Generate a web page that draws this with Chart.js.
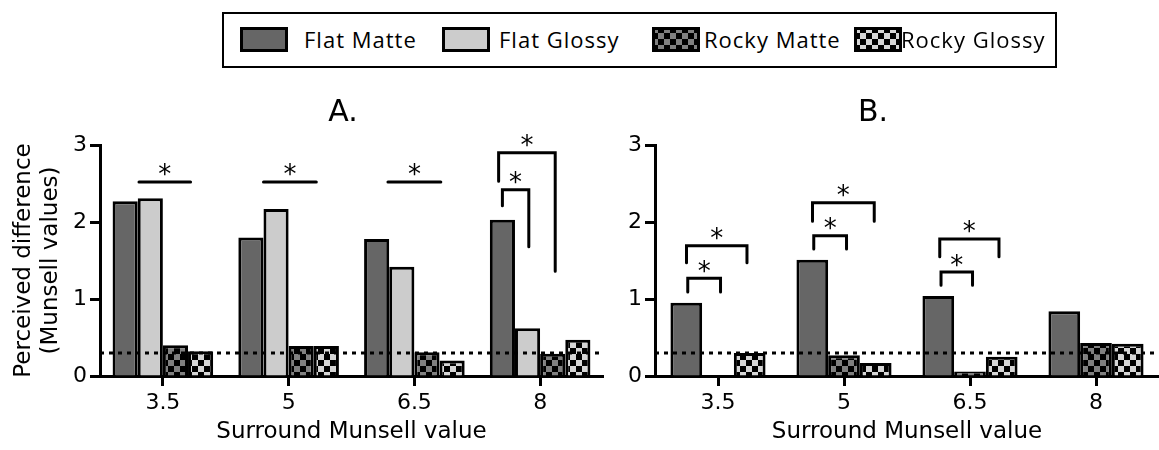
<!DOCTYPE html>
<html>
<head>
<meta charset="utf-8">
<script src="https://cdn.jsdelivr.net/npm/chart.js@4.4.1/dist/chart.umd.min.js"></script>
<style>
    html, body { margin: 0; padding: 0; background: #fff; }
    body { width: 1159px; height: 450px; position: relative; overflow: hidden; }
    #legend { position: absolute; left: 222px; top: 12px; width: 831px; height: 52px;
        border: 2px solid #000; font-family: "Open Sans", sans-serif; font-size: 22px;
        letter-spacing: 1px; color: #000; }
    #legend canvas, #legend span { position: absolute; }
    #legend span { top: 0; line-height: 50px; white-space: nowrap; }
    #boxA { position: absolute; left: 0; top: 0; width: 610px; height: 450px; }
    #boxB { position: absolute; left: 560px; top: 0; width: 599px; height: 450px; }
</style>
</head>
<body>
<div id="legend"></div>
<div id="boxA"><canvas id="chartA"></canvas></div>
<div id="boxB"><canvas id="chartB"></canvas></div>
<script>
// categories and values
var categories = ["3.5", "5", "6.5", "8"];
var seriesNames = ["Flat Matte", "Flat Glossy", "Rocky Matte", "Rocky Glossy"];
var flatMatteA = [2.27, 1.80, 1.78, 2.03];
var flatGlossyA = [2.31, 2.17, 1.42, 0.62];
var rockyMatteA = [0.40, 0.39, 0.31, 0.29];
var rockyGlossyA = [0.32, 0.39, 0.20, 0.47];
var flatMatteB = [0.95, 1.51, 1.04, 0.84];
var rockyMatteB = [0, 0.27, 0.06, 0.43];
var rockyGlossyB = [0.30, 0.17, 0.25, 0.42];
var yTicks = [0, 1, 2, 3];
var threshold = 0.3;
// significance brackets: category, left/right offset (in category widths), top and leg ends (y values)
var bracketsA = [
    { cat: 0, x1: -0.19, x2: 0.22, top: 2.52, left: 2.52, right: 2.52 },
    { cat: 1, x1: -0.20, x2: 0.22, top: 2.52, left: 2.52, right: 2.52 },
    { cat: 2, x1: -0.21, x2: 0.21, top: 2.52, left: 2.52, right: 2.52 },
    { cat: 3, x1: -0.30, x2: -0.09, top: 2.42, left: 2.21, right: 1.68 },
    { cat: 3, x1: -0.33, x2: 0.12, top: 2.90, left: 2.53, right: 1.36 },
];
var bracketsB = [
    { cat: 0, x1: -0.24, x2: 0.02, top: 1.27, left: 1.09, right: 1.09 },
    { cat: 0, x1: -0.25, x2: 0.23, top: 1.69, left: 1.47, right: 1.47 },
    { cat: 1, x1: -0.24, x2: 0.02, top: 1.82, left: 1.65, right: 1.65 },
    { cat: 1, x1: -0.25, x2: 0.24, top: 2.25, left: 2.01, right: 2.01 },
    { cat: 2, x1: -0.23, x2: 0.02, top: 1.35, left: 1.18, right: 1.18 },
    { cat: 2, x1: -0.24, x2: 0.23, top: 1.78, left: 1.55, right: 1.55 },
];

var FONT = "DejaVu Sans";

function checker(dark, light) {
    var c = document.createElement("canvas");
    c.width = 12;
    c.height = 12;
    var g = c.getContext("2d");
    g.fillStyle = dark;
    g.fillRect(0, 0, 12, 12);
    g.fillStyle = light;
    g.fillRect(0, 0, 6, 6);
    g.fillRect(6, 6, 6, 6);
    return g.createPattern(c, "repeat");
}
var fills = ["#666666", "#cccccc", checker("#000000", "#808080"), checker("#000000", "#d6d6d6")];

// legend (html, swatches drawn on small canvases)
var swatchLeft = [16, 218, 428, 630];
var textLeft = [80, 275, 480, 677];
seriesNames.forEach(function (name, i) {
    var sw = document.createElement("canvas");
    sw.width = 48;
    sw.height = 25;
    sw.style.left = swatchLeft[i] + "px";
    sw.style.top = "13px";
    var g = sw.getContext("2d");
    g.fillStyle = fills[i];
    g.fillRect(2, 2, 44, 21);
    g.strokeStyle = "#000";
    g.lineWidth = 3;
    g.strokeRect(1.5, 1.5, 45, 22);
    document.getElementById("legend").appendChild(sw);
    var t = document.createElement("span");
    t.textContent = name;
    t.style.left = textLeft[i] + "px";
    document.getElementById("legend").appendChild(t);
});

var annotate = {
    id: "annotate",
    afterDatasetsDraw: function (chart, args, opts) {
        var ctx = chart.ctx, x = chart.scales.x, y = chart.scales.y, area = chart.chartArea;
        ctx.save();
        ctx.strokeStyle = "#000";
        ctx.lineWidth = 3;
        ctx.setLineDash([4, 5]);
        var ty = y.getPixelForValue(threshold);
        ctx.beginPath();
        ctx.moveTo(area.left, ty);
        ctx.lineTo(area.right, ty);
        ctx.stroke();
        ctx.setLineDash([]);
        ctx.lineCap = "round";
        var band = x.getPixelForValue(1) - x.getPixelForValue(0);
        ctx.font = "26px '" + FONT + "'";
        ctx.fillStyle = "#000";
        ctx.textAlign = "center";
        ctx.textBaseline = "alphabetic";
        var m = ctx.measureText("*");
        var half = (m.actualBoundingBoxAscent - m.actualBoundingBoxDescent) / 2;
        opts.brackets.forEach(function (b) {
            var cx = x.getPixelForValue(b.cat);
            var x1 = cx + b.x1 * band, x2 = cx + b.x2 * band;
            var top = y.getPixelForValue(b.top);
            ctx.beginPath();
            ctx.moveTo(x1, y.getPixelForValue(b.left));
            ctx.lineTo(x1, top);
            ctx.lineTo(x2, top);
            ctx.lineTo(x2, y.getPixelForValue(b.right));
            ctx.stroke();
            ctx.fillText("*", (x1 + x2) / 2, top - 12 + half);
        });
        ctx.restore();
    },
};

var panelTitle = {
    id: "panelTitle",
    afterDraw: function (chart, args, opts) {
        var ctx = chart.ctx;
        ctx.save();
        ctx.font = "30px '" + FONT + "'";
        ctx.fillStyle = "#000";
        ctx.textAlign = "center";
        ctx.textBaseline = "middle";
        ctx.fillText(opts.text, opts.x, opts.y);
        ctx.restore();
    },
};

function barSet(label, data, fill) {
    return {
        label: label,
        data: data,
        backgroundColor: fill,
        borderColor: "#000",
        borderWidth: 3,
        barPercentage: 1.0,
    };
}

function makeChart(id, datasets, catPct, yWidth, yTitle, brackets, title, padRight) {
    const config = {
        type: "bar",
        data: { labels: categories, datasets: datasets },
        plugins: [annotate, panelTitle],
        options: {
            responsive: true,
            maintainAspectRatio: false,
            animation: false,
            datasets: { bar: { categoryPercentage: catPct } },
            layout: { padding: { top: 145, right: padRight, left: 0, bottom: 0 } },
            scales: {
                x: {
                    afterFit: function (s) { s.height = 74; },
                    grid: { offset: false, drawOnChartArea: false, tickLength: 10, tickWidth: 3, tickColor: "#000" },
                    border: { color: "#000", width: 3 },
                    ticks: { color: "#000", padding: 4, font: { family: FONT, size: 22 } },
                    title: {
                        display: true,
                        text: "Surround Munsell value",
                        color: "#000",
                        padding: { top: 0, bottom: 4 },
                        font: { family: FONT, size: 23 },
                    },
                },
                y: {
                    min: 0,
                    max: 3,
                    afterFit: function (s) { s.width = yWidth; },
                    afterBuildTicks: function (s) { s.ticks = yTicks.map(function (v) { return { value: v }; }); },
                    grid: { drawOnChartArea: false, tickLength: 10, tickWidth: 3, tickColor: "#000" },
                    border: { color: "#000", width: 3 },
                    ticks: { color: "#000", padding: 3, font: { family: FONT, size: 22 } },
                    title: {
                        display: yTitle != null,
                        text: yTitle || "",
                        color: "#000",
                        padding: { top: 11, bottom: 0 },
                        font: { family: FONT, size: 23, lineHeight: 1.15 },
                    },
                },
            },
            plugins: {
                legend: { display: false },
                tooltip: { enabled: false },
                annotate: { brackets: brackets },
                panelTitle: title,
            },
        },
    };
    return new Chart(document.getElementById(id), config);
}

makeChart("chartA", [
    barSet(seriesNames[0], flatMatteA, fills[0]),
    barSet(seriesNames[1], flatGlossyA, fills[1]),
    barSet(seriesNames[2], rockyMatteA, fills[2]),
    barSet(seriesNames[3], rockyGlossyA, fills[3]),
], 0.8, 100, ["Perceived difference", "(Munsell values)"], bracketsA, { text: "A.", x: 343, y: 113 }, 7);

makeChart("chartB", [
    barSet(seriesNames[0], flatMatteB, fills[0]),
    barSet(seriesNames[2], rockyMatteB, fills[2]),
    barSet(seriesNames[3], rockyGlossyB, fills[3]),
], 0.755, 95, null, bracketsB, { text: "B.", x: 313, y: 113 }, 0);
</script>
</body>
</html>
